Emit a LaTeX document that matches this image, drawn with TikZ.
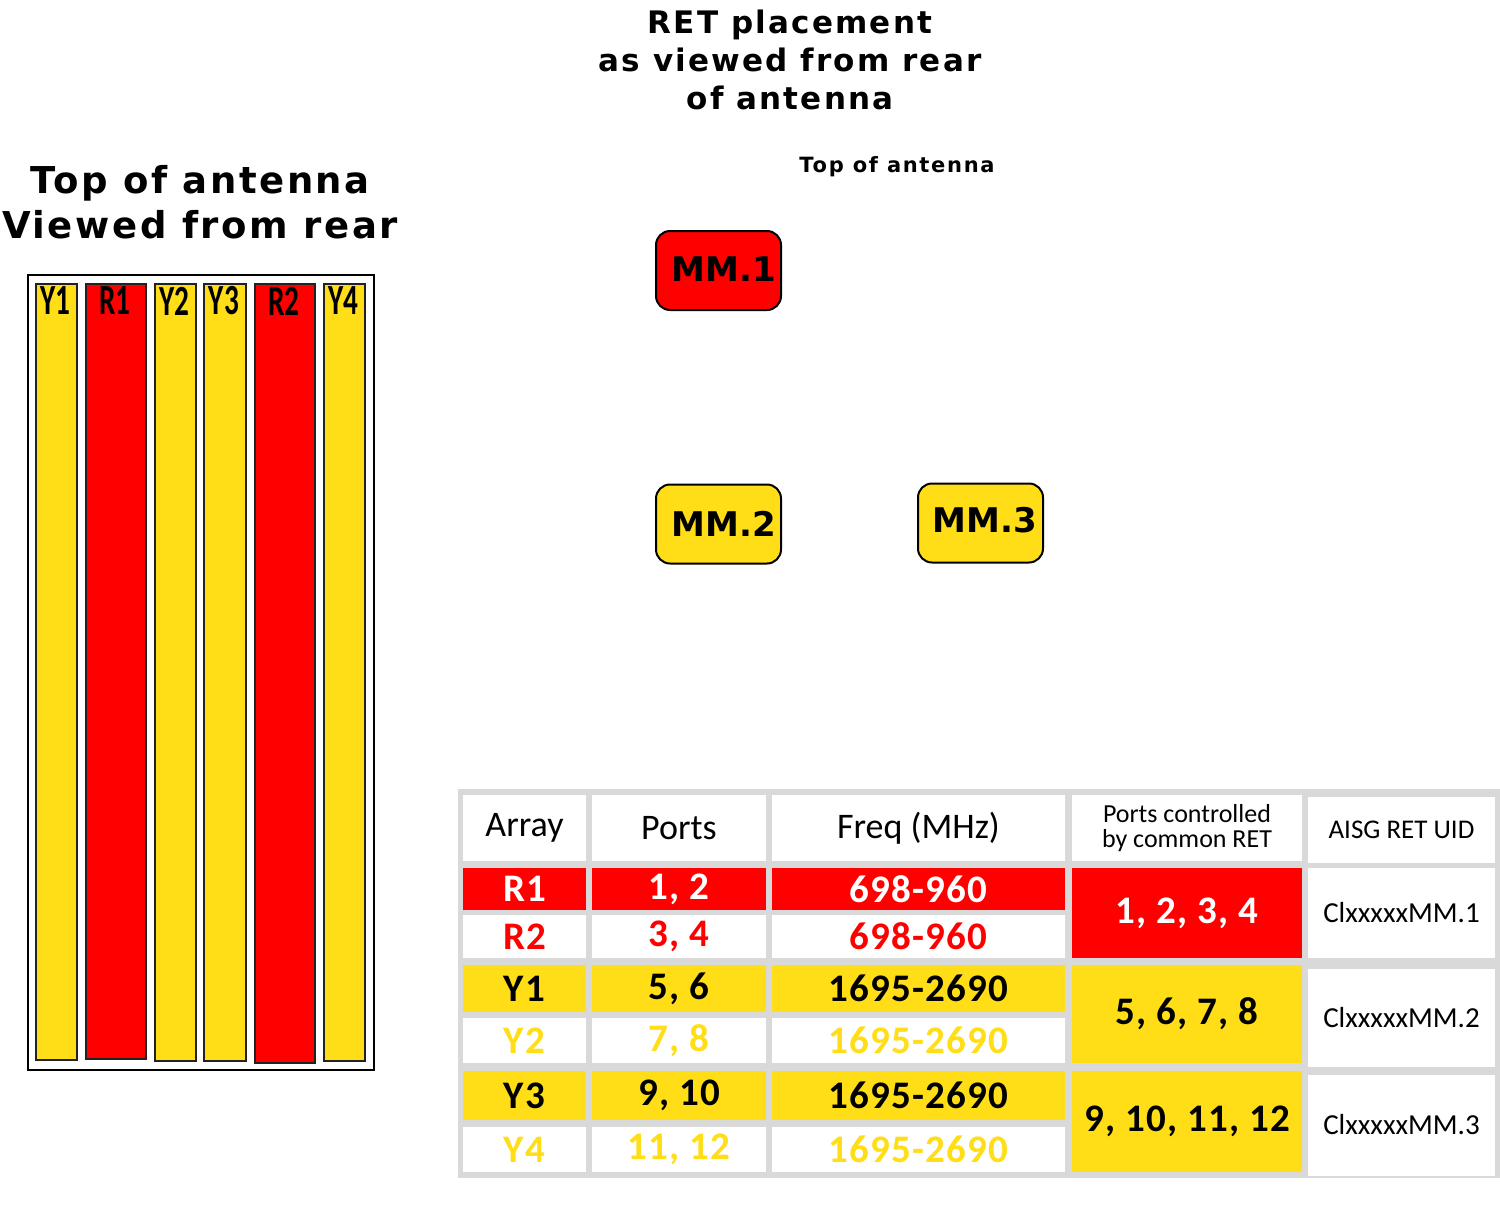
\documentclass[tikz,border=0pt]{standalone}
\usepackage{fontspec}
\usepackage{graphicx}
\newfontfamily\dvb{DejaVu Sans}
\newfontfamily\dvbw{DejaVu Sans}[LetterSpace=7]
\newfontfamily\dvbs{DejaVu Sans}[LetterSpace=8]
\newfontfamily\carl{Carlito}
\newfontfamily\carlw{Carlito}[LetterSpace=3]
\definecolor{ryel}{HTML}{FFDE17}
\definecolor{rred}{HTML}{FF0000}
\definecolor{tgray}{HTML}{D9D9D9}
\definecolor{barline}{HTML}{222222}
\tikzset{
  ttl/.style={font=\dvbw\bfseries\fontsize{31}{38}\selectfont, align=center, inner sep=0},
  bar/.style={draw=barline, line width=2pt, anchor=north west, inner sep=0},
  barlab/.style={font=\carl\bfseries\fontsize{43}{43}\selectfont, text=black, inner sep=0},
  mmbox/.style={draw=black, line width=2pt, rounded corners=14pt, minimum width=125pt, minimum height=79pt, inner sep=0},
  mmtext/.style={inner sep=0, font=\dvb\bfseries\fontsize{34}{34}\selectfont},
  cellbox/.style={inner sep=0, draw=none},
  hdr/.style={cellbox, fill=white, font=\carl\fontsize{36}{36}\selectfont},
  bod/.style={cellbox, font=\carlw\bfseries\fontsize{39}{39}\selectfont},
  uid/.style={cellbox, fill=white, font=\carl\fontsize{29}{29}\selectfont},
}
\begin{document}
\begin{tikzpicture}[x=1pt,y=-1pt]
\useasboundingbox (0,0) rectangle (1500,1216);
% titles
\node[ttl] (t1) at (790,60) {RET placement\\as viewed from rear\\of antenna};
\node[ttl, font=\dvbs\bfseries\fontsize{21}{21}\selectfont] (t2) at (897,167) {Top of antenna};
\node[ttl, font=\dvbw\bfseries\fontsize{37}{45}\selectfont] (t3) at (200,202) {Top of antenna\\Viewed from rear};
% antenna frame
\node[draw=black, line width=1.5pt, anchor=north west, minimum width=346pt, minimum height=795pt, inner sep=0] (frame) at (27,274) {};
\node[bar, fill=ryel, minimum width=41pt, minimum height=776pt] (by1) at (35,283) {};
\node[bar, fill=rred, minimum width=60pt, minimum height=775pt] (br1) at (85,283) {};
\node[bar, fill=ryel, minimum width=41pt, minimum height=777pt] (by2) at (154,283) {};
\node[bar, fill=ryel, minimum width=42pt, minimum height=777pt] (by3) at (203,283) {};
\node[bar, fill=rred, minimum width=60pt, minimum height=779pt] (br2) at (254,283) {};
\node[bar, fill=ryel, minimum width=41pt, minimum height=777pt] (by4) at (323,283) {};
\node[barlab] (ly1) at (55.5,301) {\scalebox{0.68}[1]{Y1}};
\node[barlab] (lr1) at (115,301) {\scalebox{0.68}[1]{R1}};
\node[barlab] (ly2) at (174.5,301) {\scalebox{0.68}[1]{Y2}};
\node[barlab] (ly3) at (224,301) {\scalebox{0.68}[1]{Y3}};
\node[barlab] (lr2) at (284,301) {\scalebox{0.68}[1]{R2}};
\node[barlab] (ly4) at (343.5,301) {\scalebox{0.68}[1]{Y4}};
% RET boxes
\node[mmbox, fill=rred] (mm1) at (718.5,270.5) {};
\node[mmbox, fill=ryel] (mm2) at (718.5,524) {};
\node[mmbox, fill=ryel] (mm3) at (980.5,523) {};
\node[mmtext] (mm1t) at (724,269) {MM.1};
\node[mmtext] (mm2t) at (724,524) {MM.2};
\node[mmtext] (mm3t) at (985,520) {MM.3};
% table background
\node[fill=tgray, anchor=north west, minimum width=1042pt, minimum height=389pt, inner sep=0] (tbg) at (458,789) {};
% header
\node[hdr, minimum width=123pt, minimum height=66pt] (h1) at (524.5,828) {Array};
\node[hdr, minimum width=174pt, minimum height=66pt] (h2) at (679,828) {Ports};
\node[hdr, minimum width=293pt, minimum height=66pt] (h3) at (918.5,828) {Freq (MHz)};
\node[hdr, minimum width=230pt, minimum height=66pt, font=\carl\fontsize{26}{25}\selectfont, align=center] (h4) at (1187,828) {Ports controlled\\by common RET};
\node[hdr, minimum width=187pt, minimum height=66pt, font=\carl\fontsize{27}{27}\selectfont] (h5) at (1401.5,830) {AISG RET UID};
% R1
\node[bod, fill=rred, text=white, minimum width=123pt, minimum height=42pt] (a1) at (524.5,889) {R1};
\node[bod, fill=rred, text=white, minimum width=174pt, minimum height=42pt] (p1) at (679,889) {1, 2};
\node[bod, fill=rred, text=white, minimum width=293pt, minimum height=42pt] (f1) at (918.5,889) {698-960};
% R2
\node[bod, fill=white, text=rred, minimum width=123pt, minimum height=43pt] (a2) at (524.5,936.5) {R2};
\node[bod, fill=white, text=rred, minimum width=174pt, minimum height=43pt] (p2) at (679,936.5) {3, 4};
\node[bod, fill=white, text=rred, minimum width=293pt, minimum height=43pt] (f2) at (918.5,936.5) {698-960};
% Y1
\node[bod, fill=ryel, text=black, minimum width=123pt, minimum height=47pt] (a3) at (524.5,988.5) {Y1};
\node[bod, fill=ryel, text=black, minimum width=174pt, minimum height=47pt] (p3) at (679,988.5) {5, 6};
\node[bod, fill=ryel, text=black, minimum width=293pt, minimum height=47pt] (f3) at (918.5,988.5) {1695-2690};
% Y2
\node[bod, fill=white, text=ryel, minimum width=123pt, minimum height=45pt] (a4) at (524.5,1040.5) {Y2};
\node[bod, fill=white, text=ryel, minimum width=174pt, minimum height=45pt] (p4) at (679,1040.5) {7, 8};
\node[bod, fill=white, text=ryel, minimum width=293pt, minimum height=45pt] (f4) at (918.5,1040.5) {1695-2690};
% Y3
\node[bod, fill=ryel, text=black, minimum width=123pt, minimum height=49pt] (a5) at (524.5,1095.5) {Y3};
\node[bod, fill=ryel, text=black, minimum width=174pt, minimum height=49pt] (p5) at (679,1095.5) {9, 10};
\node[bod, fill=ryel, text=black, minimum width=293pt, minimum height=49pt] (f5) at (918.5,1095.5) {1695-2690};
% Y4
\node[bod, fill=white, text=ryel, minimum width=123pt, minimum height=45pt] (a6) at (524.5,1149.5) {Y4};
\node[bod, fill=white, text=ryel, minimum width=174pt, minimum height=45pt] (p6) at (679,1149.5) {11, 12};
\node[bod, fill=white, text=ryel, minimum width=293pt, minimum height=45pt] (f6) at (918.5,1149.5) {1695-2690};
% merged RET ports
\node[bod, fill=rred, text=white, minimum width=230pt, minimum height=90pt] (c1) at (1187,913) {1, 2, 3, 4};
\node[bod, fill=ryel, text=black, minimum width=230pt, minimum height=98pt] (c2) at (1187,1014) {5, 6, 7, 8};
\node[bod, fill=ryel, text=black, minimum width=230pt, minimum height=101pt] (c3) at (1187,1121.5) {9, 10, 11, 12};
% UIDs
\node[uid, minimum width=187pt, minimum height=90pt] (u1) at (1401.5,913) {ClxxxxxMM.1};
\node[uid, minimum width=187pt, minimum height=98pt] (u2) at (1401.5,1018) {ClxxxxxMM.2};
\node[uid, minimum width=187pt, minimum height=101pt] (u3) at (1401.5,1125) {ClxxxxxMM.3};
\end{tikzpicture}
\end{document}
